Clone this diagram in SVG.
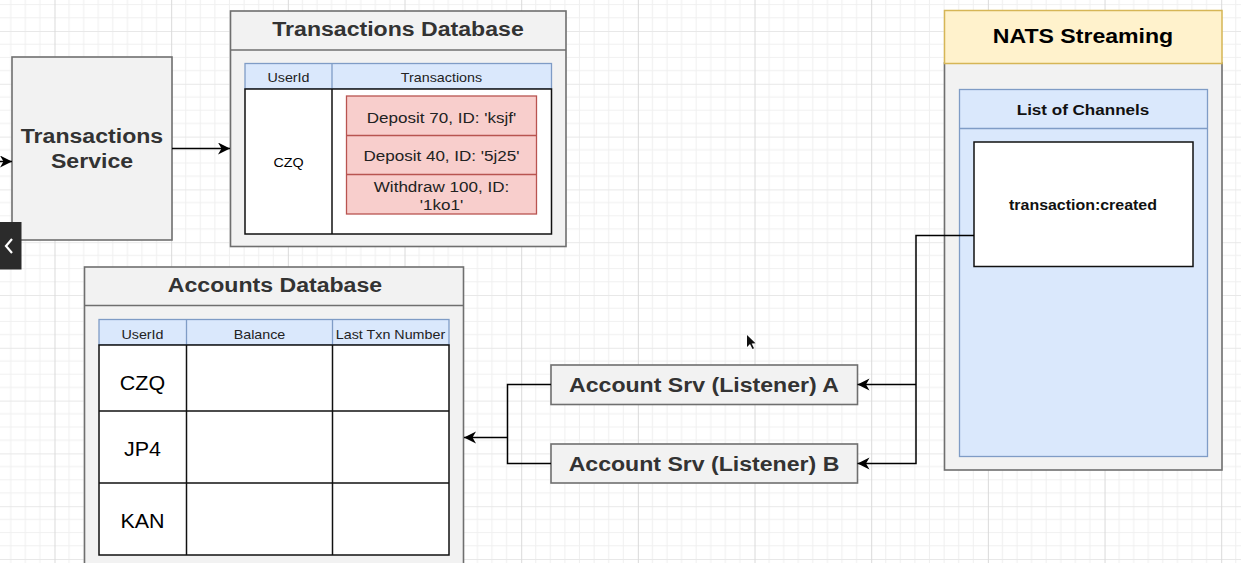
<svg xmlns="http://www.w3.org/2000/svg" width="1241" height="563" viewBox="0 0 1241 563">
  <style>
    text { font-family: "Liberation Sans", Arial, sans-serif; }
    .sx { transform-box: fill-box; transform-origin: center; transform: scaleX(1.1); }
    .title { font-size: 21px; font-weight: bold; fill: #333333; text-anchor: middle; }
    .dark { fill: #000000; }
    .hdr { font-size: 13px; fill: #222222; text-anchor: middle; }
    .cell { font-size: 13px; fill: #000000; text-anchor: middle; }
    .big { font-size: 19.5px; fill: #000000; text-anchor: middle; }
    .txn { font-size: 15.5px; fill: #222222; text-anchor: middle; }
    .box { fill: #f2f2f2; stroke: #6f6f6f; stroke-width: 1.6; }
    .blue { fill: #dae8fc; stroke: #7f9cc6; stroke-width: 1.3; }
    .red { fill: #f8cecc; stroke: #b85450; stroke-width: 1.3; }
    .tbl { fill: #ffffff; stroke: #111111; stroke-width: 1.5; }
    .line { fill: none; stroke: #111111; stroke-width: 1.5; }
    .wire { fill: none; stroke: #000000; stroke-width: 1.5; }
  </style>
  <defs>
    <pattern id="grid" patternUnits="userSpaceOnUse" x="54.5" y="31" width="116.67" height="52.8">
      <rect width="116.67" height="52.8" fill="#ffffff"/>
      <g stroke="#f0f0f0" stroke-width="1">
        <line x1="14.58" y1="0" x2="14.58" y2="52.8"/>
        <line x1="29.17" y1="0" x2="29.17" y2="52.8"/>
        <line x1="43.75" y1="0" x2="43.75" y2="52.8"/>
        <line x1="58.33" y1="0" x2="58.33" y2="52.8"/>
        <line x1="72.92" y1="0" x2="72.92" y2="52.8"/>
        <line x1="87.5" y1="0" x2="87.5" y2="52.8"/>
        <line x1="102.08" y1="0" x2="102.08" y2="52.8"/>
        <line x1="0" y1="13.2" x2="116.67" y2="13.2"/>
        <line x1="0" y1="26.4" x2="116.67" y2="26.4"/>
        <line x1="0" y1="39.6" x2="116.67" y2="39.6"/>
      </g>
      <line x1="0" y1="0.5" x2="116.67" y2="0.5" stroke="#e8e8e8" stroke-width="1"/>
      <line x1="0.5" y1="0" x2="0.5" y2="52.8" stroke="#dadada" stroke-width="1"/>
    </pattern>
    <marker id="arrow" markerUnits="userSpaceOnUse" markerWidth="16" markerHeight="14" refX="12" refY="6" orient="auto">
      <path d="M0,0 L12,6 L0,12 L3.5,6 Z" fill="#000000"/>
    </marker>
  </defs>

  <!-- canvas grid -->
  <rect width="1241" height="563" fill="url(#grid)"/>

  <!-- Transactions Service -->
  <g id="transactions-service">
    <rect class="box" x="12" y="57" width="160" height="183"/>
    <text class="title sx" x="92" y="143.5">Transactions</text>
    <text class="title sx" x="92" y="168">Service</text>
  </g>

  <!-- Transactions Database -->
  <g id="transactions-db">
    <rect class="box" x="230.5" y="11" width="335.5" height="235.5"/>
    <line x1="230.5" y1="50" x2="566" y2="50" stroke="#6f6f6f" stroke-width="1.6"/>
    <text class="title sx" x="398" y="36.5">Transactions Database</text>
    <rect class="blue" x="245" y="63.5" width="306.5" height="25.5"/>
    <line x1="332" y1="63.5" x2="332" y2="89" stroke="#7f9cc6" stroke-width="1.3"/>
    <text class="hdr sx" x="288.5" y="82.5">UserId</text>
    <text class="hdr sx" x="441.5" y="82.5">Transactions</text>
    <rect class="tbl" x="245" y="89" width="306.5" height="145"/>
    <line class="line" x1="332" y1="89" x2="332" y2="234"/>
    <text class="cell sx" x="288.5" y="167.5">CZQ</text>
    <rect class="red" x="346.5" y="96" width="190" height="118"/>
    <line x1="346.5" y1="135.5" x2="536.5" y2="135.5" stroke="#b85450" stroke-width="1.3"/>
    <line x1="346.5" y1="174.5" x2="536.5" y2="174.5" stroke="#b85450" stroke-width="1.3"/>
    <text class="txn sx" x="441.5" y="123">Deposit 70, ID: 'ksjf'</text>
    <text class="txn sx" x="441.5" y="161.5">Deposit 40, ID: '5j25'</text>
    <text class="txn sx" x="441.5" y="192.5">Withdraw 100, ID:</text>
    <text class="txn sx" x="441.5" y="210.5">'1ko1'</text>
  </g>

  <!-- Accounts Database -->
  <g id="accounts-db">
    <rect class="box" x="84.5" y="267" width="379" height="320"/>
    <line x1="84.5" y1="305.5" x2="463.5" y2="305.5" stroke="#6f6f6f" stroke-width="1.6"/>
    <text class="title sx" x="275" y="292.5">Accounts Database</text>
    <rect class="blue" x="99" y="319.5" width="350" height="25.5"/>
    <line x1="186.5" y1="319.5" x2="186.5" y2="345" stroke="#7f9cc6" stroke-width="1.3"/>
    <line x1="332.5" y1="319.5" x2="332.5" y2="345" stroke="#7f9cc6" stroke-width="1.3"/>
    <text class="hdr sx" x="142.5" y="339">UserId</text>
    <text class="hdr sx" x="259.5" y="339">Balance</text>
    <text class="hdr sx" x="390.5" y="339">Last Txn Number</text>
    <rect class="tbl" x="99" y="345" width="350" height="210"/>
    <line class="line" x1="186.5" y1="345" x2="186.5" y2="555"/>
    <line class="line" x1="332.5" y1="345" x2="332.5" y2="555"/>
    <line class="line" x1="99" y1="411" x2="449" y2="411"/>
    <line class="line" x1="99" y1="483" x2="449" y2="483"/>
    <text class="big sx" x="142.5" y="390">CZQ</text>
    <text class="big sx" x="142.5" y="456">JP4</text>
    <text class="big sx" x="142.5" y="528">KAN</text>
  </g>

  <!-- Account listener A -->
  <g id="listener-a">
    <rect class="box" x="551" y="365" width="306.5" height="39.5"/>
    <text class="title sx" x="704" y="392">Account Srv (Listener) A</text>
  </g>

  <!-- Account listener B -->
  <g id="listener-b">
    <rect class="box" x="551" y="444" width="306.5" height="39"/>
    <text class="title sx" x="704" y="471">Account Srv (Listener) B</text>
  </g>

  <!-- NATS Streaming -->
  <g id="nats-streaming">
    <rect class="box" x="944.5" y="63" width="277.5" height="407"/>
    <rect x="944.5" y="10.5" width="277.5" height="53" fill="#fff2cc" stroke="#d6b656" stroke-width="1.5"/>
    <text class="title dark sx" x="1083" y="43.5">NATS Streaming</text>
  </g>

  <!-- List of Channels -->
  <g id="channel-list">
    <rect class="blue" x="959.5" y="89.5" width="248" height="367"/>
    <line x1="959.5" y1="128.5" x2="1207.5" y2="128.5" stroke="#7f9cc6" stroke-width="1.3"/>
    <text class="sx" x="1083" y="115.5" font-size="15.5" font-weight="bold" fill="#111111" text-anchor="middle">List of Channels</text>
  </g>

  <!-- transaction:created channel -->
  <g id="channel-transaction-created">
    <rect class="tbl" x="974" y="142" width="219" height="124.5"/>
    <text class="sx" x="1083" y="210.5" font-size="14.5" font-weight="bold" fill="#111111" text-anchor="middle">transaction:created</text>
  </g>

  <!-- connectors, drawn over the containers they cross -->
  <g id="connectors">
    <line class="wire" x1="0" y1="161.5" x2="12" y2="161.5" marker-end="url(#arrow)"/>
    <line class="wire" x1="172" y1="148.5" x2="230" y2="148.5" marker-end="url(#arrow)"/>
    <path class="wire" d="M974,235.5 H916 V463.5 H857.5" marker-end="url(#arrow)"/>
    <path class="wire" d="M916,384.5 H857.5" marker-end="url(#arrow)"/>
    <path class="wire" d="M551,384.5 H507.5 V463.5 H551"/>
    <path class="wire" d="M507.5,437.5 H464" marker-end="url(#arrow)"/>
  </g>

  <!-- side panel tab and pointer -->
  <rect x="0" y="222" width="21.5" height="47.5" fill="#2b2b2b"/>
  <path d="M12,239 L6,246 L12,253" fill="none" stroke="#ffffff" stroke-width="2.2"/>
  <path d="M747,335 L747,347 L750,344 L752.5,349 L754,348.3 L751.7,343.5 L755.5,343.3 Z" fill="#111111"/>
</svg>
